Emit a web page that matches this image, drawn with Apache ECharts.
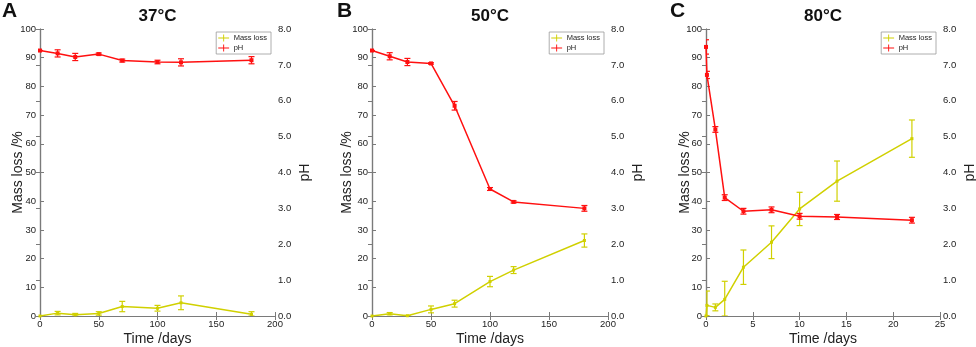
<!DOCTYPE html>
<html>
<head>
<meta charset="utf-8">
<script src="https://cdn.jsdelivr.net/npm/echarts@6/dist/echarts.min.js"></script>
<style>
  html, body { margin: 0; padding: 0; background: #fff; }
  #chart { width: 976px; height: 347px; }
</style>
</head>
<body>
<div id="chart"></div>
<script>
// --- data ---
const timeA    = [0, 15, 30, 50, 70, 100, 120, 180]
const massA    = [0, 1.0, 0.4, 0.9, 3.3, 2.7, 4.6, 0.6]
const massErrA = [0, 0.6, 0.5, 0.6, 1.8, 1.0, 2.4, 0.9]
const phA      = [7.40, 7.32, 7.22, 7.30, 7.12, 7.08, 7.07, 7.13]
const phErrA   = [0, 0.10, 0.10, 0.03, 0.04, 0.05, 0.10, 0.10]

const timeB    = [0, 15, 30, 50, 70, 100, 120, 180]
const massB    = [0, 0.8, 0.1, 2.3, 4.3, 12.0, 16.0, 26.3]
const massErrB = [0, 0.4, 0.1, 1.2, 1.2, 1.8, 1.2, 2.3]
const phB      = [7.40, 7.24, 7.08, 7.04, 5.86, 3.54, 3.18, 3.00]
const phErrB   = [0, 0.10, 0.10, 0.02, 0.12, 0.04, 0.03, 0.08]

const timeC    = [0, 0.1, 1, 2, 4, 7, 10, 14, 22]
const massC    = [0, 3.7, 3.0, 5.8, 17.0, 25.7, 37.3, 47.0, 61.8]
const massErrC = [0, 5.0, 1.2, 6.3, 6.0, 5.7, 5.8, 7.0, 6.5]
const phC      = [7.50, 6.72, 5.20, 3.30, 2.92, 2.96, 2.78, 2.76, 2.67]
const phErrC   = [0.20, 0.10, 0.08, 0.08, 0.08, 0.08, 0.08, 0.07, 0.08]

const panels = [
  { letter: 'A', title: '37°C', t: timeA, mass: massA, massErr: massErrA, ph: phA, phErr: phErrA, xMax: 200, xInt: 50, left: 40,  right: 275, lx: 2,   gapL: 15 },
  { letter: 'B', title: '50°C', t: timeB, mass: massB, massErr: massErrB, ph: phB, phErr: phErrB, xMax: 200, xInt: 50, left: 372, right: 608, lx: 337, gapL: 18 },
  { letter: 'C', title: '80°C', t: timeC, mass: massC, massErr: massErrC, ph: phC, phErr: phErrC, xMax: 25,  xInt: 5,  left: 706, right: 940, lx: 670, gapL: 14 },
]

const YELLOW = '#d0d000'
const RED = '#ff1010'
const AXIS = '#7a7a7a'
const FONT = 'Liberation Sans, Arial, sans-serif'

function errorBars(params, api) {
  const x = api.value(0)
  const lo = api.coord([x, api.value(1)])
  const hi = api.coord([x, api.value(2)])
  const w = 3
  const style = { stroke: api.visual('color'), lineWidth: 1.2 }
  return {
    type: 'group',
    children: [
      { type: 'line', shape: { x1: lo[0], y1: lo[1], x2: hi[0], y2: hi[1] }, style },
      { type: 'line', shape: { x1: lo[0] - w, y1: lo[1], x2: lo[0] + w, y2: lo[1] }, style },
      { type: 'line', shape: { x1: hi[0] - w, y1: hi[1], x2: hi[0] + w, y2: hi[1] }, style },
    ],
  }
}

const W = 976
const grid = [], xAxis = [], yAxis = [], series = [], title = [], legend = []

panels.forEach((p, i) => {
  grid.push({
    left: p.left, right: W - p.right, top: 29, bottom: 31,
    containLabel: false, outerBoundsMode: 'none',
  })
  const lbl = { color: '#222', fontSize: 9.5, fontFamily: FONT }
  const nameStyle = { fontSize: 14, color: '#222', fontFamily: FONT }
  const line = { show: true, lineStyle: { color: AXIS, width: 1.2 } }
  const tick = { inside: true, length: 4, lineStyle: { color: AXIS } }
  xAxis.push({
    gridIndex: i, type: 'value', min: 0, max: p.xMax, interval: p.xInt,
    name: 'Time /days', nameLocation: 'middle', nameGap: 16, nameMoveOverlap: false,
    nameTextStyle: nameStyle,
    axisLine: line, axisTick: tick,
    axisLabel: { ...lbl, margin: 3 }, splitLine: { show: false },
  })
  xAxis.push({
    gridIndex: i, type: 'value', position: 'top', min: 0, max: p.xMax, interval: p.xInt,
    axisLine: line, axisTick: tick,
    axisLabel: { show: false }, splitLine: { show: false },
  })
  yAxis.push({
    gridIndex: i, type: 'value', min: 0, max: 100, interval: 10,
    name: 'Mass loss /%', nameLocation: 'middle', nameGap: p.gapL, nameRotate: 90, nameMoveOverlap: false,
    nameTextStyle: nameStyle,
    axisLine: line, axisTick: tick,
    axisLabel: { ...lbl, margin: 4 }, splitLine: { show: false },
  })
  yAxis.push({
    gridIndex: i, type: 'value', position: 'right', min: 0, max: 8, interval: 1,
    name: 'pH', nameLocation: 'middle', nameGap: 23, nameRotate: 90, nameMoveOverlap: false,
    nameTextStyle: nameStyle,
    axisLine: line, axisTick: tick,
    axisLabel: { ...lbl, margin: 3, formatter: v => v.toFixed(1) }, splitLine: { show: false },
  })

  const xi = i * 2, yl = i * 2, yr = i * 2 + 1
  series.push({
    name: 'Mass loss', type: 'line', xAxisIndex: xi, yAxisIndex: yl,
    data: p.t.map((t, k) => [t, p.mass[k]]),
    symbol: 'rect', symbolSize: 3, color: YELLOW, lineStyle: { width: 1.5, color: YELLOW },
    animation: false, z: 3,
  })
  series.push({
    name: 'Mass loss', type: 'custom', xAxisIndex: xi, yAxisIndex: yl, clip: true,
    data: p.t.map((t, k) => [t, Math.max(0, p.mass[k] - p.massErr[k]), p.mass[k] + p.massErr[k]]),
    renderItem: errorBars, encode: { x: 0, y: [1, 2] }, itemStyle: { color: YELLOW },
    animation: false, z: 3,
  })
  series.push({
    name: 'pH', type: 'line', xAxisIndex: xi, yAxisIndex: yr,
    data: p.t.map((t, k) => [t, p.ph[k]]),
    symbol: 'rect', symbolSize: 4, color: RED, lineStyle: { width: 1.5, color: RED },
    animation: false, z: 4,
  })
  series.push({
    name: 'pH', type: 'custom', xAxisIndex: xi, yAxisIndex: yr, clip: true,
    data: p.t.map((t, k) => [t, p.ph[k] - p.phErr[k], p.ph[k] + p.phErr[k]]),
    renderItem: errorBars, encode: { x: 0, y: [1, 2] }, itemStyle: { color: RED },
    animation: false, z: 4,
  })

  title.push({
    text: p.letter, left: p.lx, top: 1, padding: 0,
    textStyle: { fontSize: 21, fontWeight: 'bold', color: '#111', fontFamily: FONT },
  })
  title.push({
    text: p.title, left: (p.left + p.right) / 2, top: 8, padding: 0, textAlign: 'center',
    textStyle: { fontSize: 17, fontWeight: 'bold', color: '#111', fontFamily: FONT },
  })
  legend.push({
    data: ['Mass loss', 'pH'], orient: 'vertical', right: W - p.right + 4, top: 32,
    itemWidth: 14, itemHeight: 7, itemGap: 2, padding: [2, 4, 2, 2],
    borderColor: '#999', borderWidth: 0.8, backgroundColor: '#fff',
    icon: 'path://M0,4h14v1.2h-14z M6.4,0h1.2v9h-1.2z',
    textStyle: { fontSize: 7.5, color: '#222', fontFamily: FONT, padding: [0, 0, 0, -2] },
    selectedMode: false,
  })
})

const chart = echarts.init(document.getElementById('chart'), null, { renderer: 'canvas' })
chart.setOption({
  backgroundColor: '#fff',
  animation: false,
  title, legend, grid, xAxis, yAxis, series,
})
</script>
</body>
</html>
